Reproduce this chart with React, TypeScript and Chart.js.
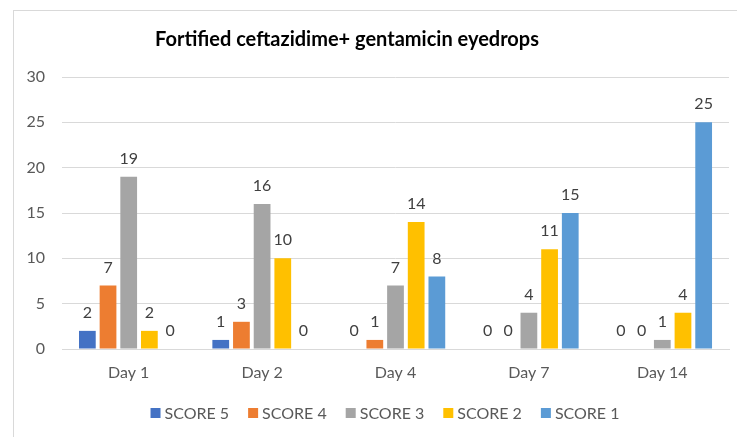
import React, { useEffect, useRef } from "react";
import { Chart, registerables } from "chart.js";

Chart.register(...registerables);

const categories = ["Day 1", "Day 2", "Day 4", "Day 7", "Day 14"];
const seriesNames = ["SCORE 5", "SCORE 4", "SCORE 3", "SCORE 2", "SCORE 1"];
const score5 = [2, 1, 0, 0, 0];
const score4 = [7, 3, 1, 0, 0];
const score3 = [19, 16, 7, 4, 1];
const score2 = [2, 10, 14, 11, 4];
const score1 = [0, 0, 8, 15, 25];
const colors = ["#4472C4", "#ED7D31", "#A5A5A5", "#FFC000", "#5B9BD5"];
const titleText = "Fortified ceftazidime+ gentamicin eyedrops";

const FONT = "Lato, 'Open Sans', sans-serif";

const decorPlugin = {
  id: "decor",
  beforeDraw(chart: any) {
    const ctx = chart.ctx;
    ctx.save();
    ctx.fillStyle = "#FFFFFF";
    ctx.fillRect(0, 0, chart.width, chart.height);
    ctx.strokeStyle = "#D9D9D9";
    ctx.lineWidth = 1;
    ctx.strokeRect(13.5, 10.5, chart.width + 20, chart.height + 20);
    ctx.restore();
  },
  afterDatasetsDraw(chart: any) {
    const ctx = chart.ctx;
    ctx.save();
    ctx.font = `16px ${FONT}`;
    ctx.fillStyle = "#404040";
    ctx.textAlign = "center";
    ctx.textBaseline = "middle";
    chart.data.datasets.forEach((ds: any, i: number) => {
      const meta = chart.getDatasetMeta(i);
      meta.data.forEach((bar: any, j: number) => {
        ctx.fillText(String(ds.data[j]), bar.x, bar.y - 18);
      });
    });
    ctx.restore();
  },
  afterDraw(chart: any) {
    const ctx = chart.ctx;
    ctx.save();
    // title
    ctx.font = `bold 20px ${FONT}`;
    ctx.fillStyle = "#000000";
    ctx.textAlign = "center";
    ctx.textBaseline = "middle";
    ctx.fillText(titleText, 347, 40);
    // legend
    ctx.font = `16px ${FONT}`;
    ctx.textAlign = "left";
    const box = 10;
    const gap = 4;
    const spacing = 19;
    const widths = chart.data.datasets.map((ds: any) => box + gap + ctx.measureText(ds.label).width);
    const total = widths.reduce((a: number, b: number) => a + b, 0) + spacing * (widths.length - 1);
    let x = 385 - total / 2;
    const y = 413;
    chart.data.datasets.forEach((ds: any, i: number) => {
      ctx.fillStyle = ds.backgroundColor;
      ctx.fillRect(x, y - box / 2, box, box);
      ctx.fillStyle = "#595959";
      ctx.fillText(ds.label, x + box + gap, y + 1);
      x += widths[i] + spacing;
    });
    ctx.restore();
  },
};

export default function App() {
  const ref = useRef<HTMLCanvasElement>(null);
  useEffect(() => {
    if (!ref.current) return;
    const values = [score5, score4, score3, score2, score1];
    const chart = new Chart(ref.current, {
      type: "bar",
      data: {
        labels: categories,
        datasets: seriesNames.map((name, i) => ({
          label: name,
          data: values[i],
          backgroundColor: colors[i],
          borderWidth: 0,
          categoryPercentage: 0.775,
          barPercentage: 0.81,
        })),
      },
      options: {
        animation: false,
        responsive: false,
        maintainAspectRatio: false,
        layout: { padding: { top: 77, right: 8, bottom: 0, left: 0 } },
        plugins: {
          legend: { display: false },
          title: { display: false },
          tooltip: { enabled: false },
        },
        scales: {
          x: {
            grid: { display: false, drawTicks: false },
            border: { display: true, color: "#D9D9D9", width: 1 },
            ticks: { color: "#595959", font: { family: FONT, size: 16 }, padding: 14 },
            afterFit: (s: any) => { s.height = 88; },
          },
          y: {
            min: 0,
            max: 30,
            ticks: { stepSize: 5, color: "#595959", font: { family: FONT, size: 16 }, padding: 17 },
            grid: { color: "#D9D9D9", drawTicks: false },
            border: { display: false },
            afterFit: (s: any) => { s.width = 62; },
          },
        },
      },
      plugins: [decorPlugin],
    });
    return () => chart.destroy();
  }, []);
  return (
    <div style={{ position: "absolute", left: 0, top: 0, width: 737, height: 437 }}>
      <canvas ref={ref} width={737} height={437} style={{ display: "block" }} />
    </div>
  );
}
